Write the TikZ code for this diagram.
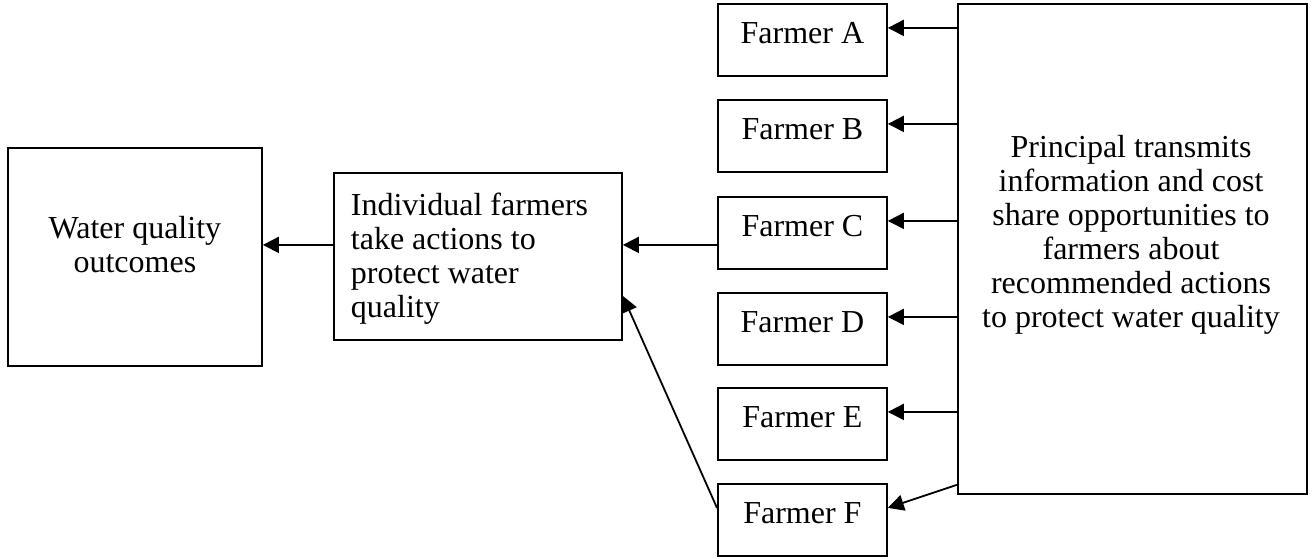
\documentclass[tikz,border=0pt]{standalone}
\usepackage{fontspec}
\setmainfont{Liberation Serif}
\usetikzlibrary{arrows.meta, positioning}
\tikzset{>={Triangle[length=8pt,width=8pt]}}
\tikzset{box/.style={draw, line width=0.9pt, inner sep=0pt, anchor=north west},
  farmer/.style={box, minimum width=84.5pt, minimum height=36pt, text height=0.68em, text depth=0.34em},
  txt/.style={inner sep=0pt}}

\begin{document}
\begin{tikzpicture}[x=0.5pt, y=-0.5pt, font=\fontsize{16}{17}\selectfont, line width=0.9pt]
\useasboundingbox (0,0) rectangle (1315,558);
\node[box, minimum width=127pt, minimum height=109pt] (W) at (7,147) {};
\node[txt, align=center, below=34pt of W.north] (Wt) {Water quality\\outcomes};
\node[box, minimum width=144pt, minimum height=83.5pt] (I) at (333,172) {};
\node[txt, align=left, anchor=north west] (It) at ([xshift=8.5pt, yshift=-10pt]I.north west)
  {Individual farmers\\take actions to\\protect water\\quality};
\node[farmer] (A) at (717,3) {Farmer A};
\node[farmer] (B) at (717,99) {Farmer B};
\node[farmer] (C) at (717,196) {Farmer C};
\node[farmer] (D) at (717,292) {Farmer D};
\node[farmer] (E) at (717,387) {Farmer E};
\node[farmer] (F) at (717,483) {Farmer F};
\node[box, minimum width=174.5pt, minimum height=245pt] (P) at (957,3) {};
\node[txt, align=center] (Pt) at (1131,235)
  {Principal transmits\\information and cost\\share opportunities to\\farmers about\\recommended actions\\to protect water quality};
% principal to farmers
\draw[->] ([yshift=6pt]A.east -| P.west) -- ([yshift=6pt]A.east);
\draw[->] ([yshift=6pt]B.east -| P.west) -- ([yshift=6pt]B.east);
\draw[->] ([yshift=6pt]C.east -| P.west) -- ([yshift=6pt]C.east);
\draw[->] ([yshift=6pt]D.east -| P.west) -- ([yshift=6pt]D.east);
\draw[->] ([yshift=6pt]E.east -| P.west) -- ([yshift=6pt]E.east);
\draw[->] ([yshift=5pt]P.south west) -- ([yshift=6pt]F.east);
% farmers to actions
\draw[->] ([yshift=-6pt]C.west) -- ([yshift=-6pt]C.west -| I.east);
\draw[->] ([yshift=6pt]F.west) -- ([yshift=-19.75pt]I.east);
\draw[->] ([yshift=5.75pt]I.west) -- ([yshift=5.75pt]I.west -| W.east);
\end{tikzpicture}
\end{document}
